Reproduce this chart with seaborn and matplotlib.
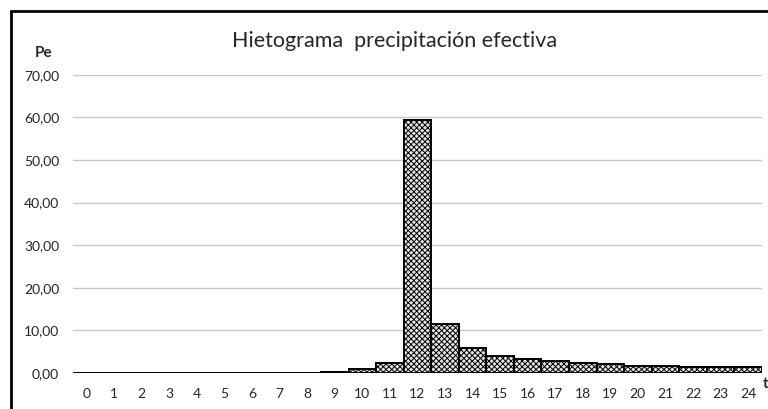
import matplotlib
matplotlib.use("Agg")
import matplotlib.pyplot as plt
import seaborn as sns
import pandas as pd
from matplotlib.lines import Line2D

horas = [str(i) for i in range(25)]
pe = [0, 0, 0, 0, 0, 0, 0, 0, 0, 0.2, 0.9, 2.3, 59.4, 11.6, 5.8, 4.1,
      3.4, 2.8, 2.3, 2.1, 1.7, 1.7, 1.5, 1.3, 1.3]
yticks = [0, 10, 20, 30, 40, 50, 60, 70]

df = pd.DataFrame({'t': horas, 'Pe': pe})

sns.set_style('white')
plt.rcParams['font.family'] = ['Lato', 'DejaVu Sans']
plt.rcParams['hatch.color'] = '#6e6e6e'
plt.rcParams['hatch.linewidth'] = 0.7

fig = plt.figure(figsize=(7.68, 4.09), dpi=100)
ax = fig.add_axes([0.095, 0.088, 0.897, 0.729])

sns.barplot(data=df, x='t', y='Pe', width=1.0, color='#e4e4e4',
            edgecolor='black', linewidth=1.4, ax=ax, zorder=3)
for p in ax.patches:
    p.set_hatch('xxxxxx')

ax.set_ylim(0, 70)
ax.set_xlim(-0.5, 24.5)
ax.set_yticks(yticks)
ax.set_yticklabels([f'{v:.2f}'.replace('.', ',') for v in yticks], fontsize=10)
ax.tick_params(axis='x', labelsize=10, length=0, pad=11)
ax.tick_params(axis='y', length=0, pad=10)
ax.grid(axis='y', color='#c8c8c8', linewidth=1, zorder=0)
ax.set_axisbelow(True)
for s in ax.spines.values():
    s.set_visible(False)
ax.set_xlabel('')
ax.set_ylabel('')

fig.text(0.514, 0.9, 'Hietograma  precipitación efectiva', ha='center',
         va='center', fontsize=15.5)
fig.text(0.057, 0.87, 'Pe', ha='center', va='center', fontsize=11,
         fontweight='bold')
fig.text(0.997, 0.061, 't', ha='center', va='center', fontsize=11,
         fontweight='bold', color='#3a2a1a')

# marco del grafico
fig.add_artist(Line2D([0.0145, 1.0], [0.974, 0.974], color='black', lw=2,
                      transform=fig.transFigure))
fig.add_artist(Line2D([0.0145, 0.0145], [0.0, 0.974], color='black', lw=2,
                      transform=fig.transFigure))

fig.savefig('out.png', dpi=100)
